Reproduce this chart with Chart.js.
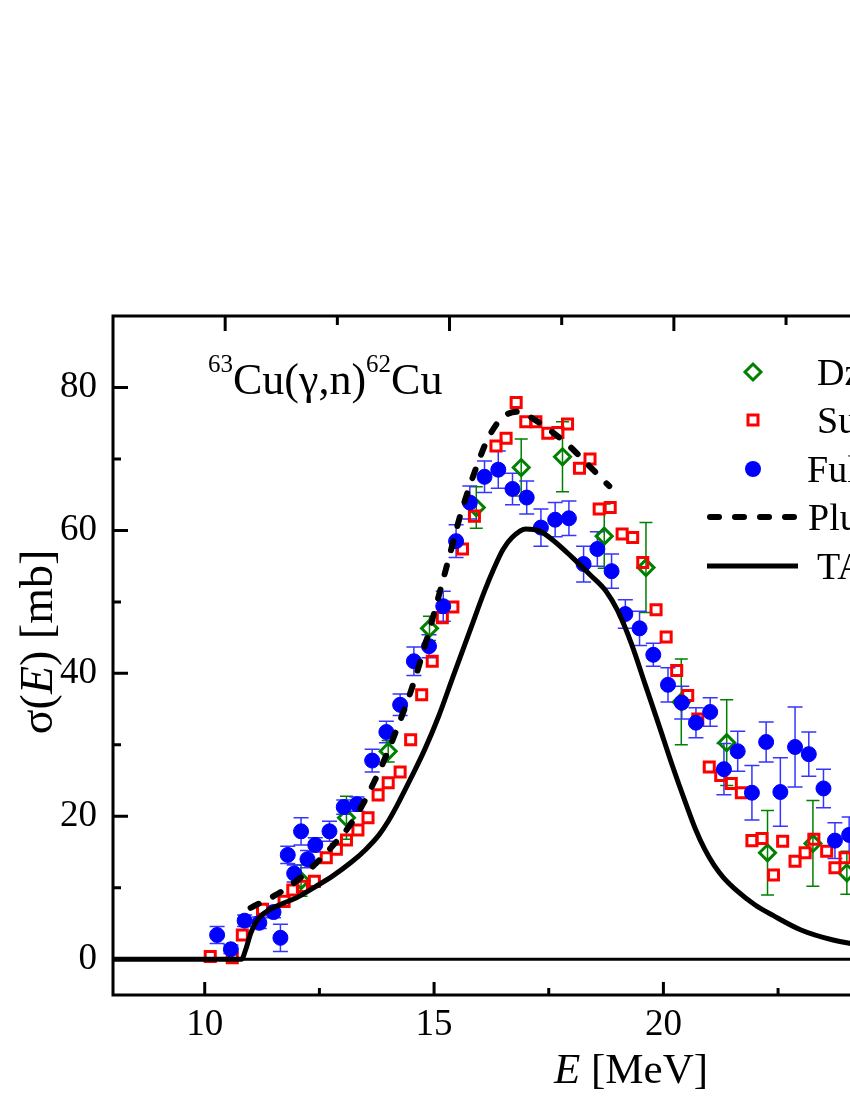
<!DOCTYPE html>
<html lang="en">
<head>
<meta charset="UTF-8">
<title>63Cu(γ,n)62Cu cross section</title>
<script src="https://cdn.jsdelivr.net/npm/chart.js@4.4.1/dist/chart.umd.min.js"></script>
<style>
    html, body {
        margin: 0;
        padding: 0;
        background-color: #ffffff;
        overflow: hidden;
    }
    #wrap {
        width: 1180px;
        height: 1100px;
    }
</style>
</head>
<body>

<div id="wrap">
    <canvas id="sigmaChart" width="1180" height="1100"></canvas>
</div>

<script>
    // Dzhilavyan (open diamonds, with error bars)
    const dzE   = [12.1, 13.09, 14.0, 14.9, 15.92, 16.9, 17.8, 18.71, 19.62, 20.39, 21.38, 22.27, 23.26, 24.0];
    const dzS   = [11.0, 19.8, 29.1, 46.3, 63.2, 68.8, 70.3, 59.2, 54.8, 36.0, 30.3, 14.9, 16.2, 12.1];
    const dzErr = [2.2, 3.0, 1.5, 1.7, 2.9, 4.0, 4.9, 4.5, 6.3, 6.0, 6.0, 5.9, 6.0, 3.0];

    // Sund (open squares)
    const sundE = [10.12, 10.6, 10.82, 11.26, 11.73, 11.92, 12.13, 12.39, 12.65, 12.87,
                   13.09, 13.34, 13.56, 13.78, 14.0, 14.26, 14.49, 14.73, 14.96, 15.18,
                   15.41, 15.62, 15.88, 16.35, 16.57, 16.79, 17.0, 17.22, 17.48, 17.7,
                   17.91, 18.17, 18.4, 18.6, 18.84, 19.1, 19.33, 19.55, 19.84, 20.06,
                   20.29, 20.53, 20.75, 21.0, 21.25, 21.48, 21.7, 21.93, 22.15, 22.4,
                   22.6, 22.87, 23.09, 23.28, 23.56, 23.74, 23.96];
    const sundS = [0.4, 0.2, 3.4, 7.0, 8.1, 9.7, 10.2, 10.9, 14.2, 15.4,
                   16.7, 18.1, 19.8, 23.0, 24.7, 26.2, 30.7, 37.0, 41.7, 47.8,
                   49.3, 57.4, 62.0, 71.8, 72.9, 77.9, 75.2, 75.2, 73.6, 73.7,
                   74.9, 68.7, 70.0, 63.0, 63.2, 59.5, 59.0, 55.5, 48.9, 45.1,
                   40.4, 36.9, 33.6, 26.9, 25.7, 24.6, 23.3, 16.6, 16.9, 11.8,
                   16.5, 13.7, 14.9, 16.8, 15.1, 12.8, 14.2];

    // Fultz (filled circles, with error bars)
    const fultzE = [10.27, 10.57, 10.87, 11.19, 11.5, 11.65, 11.81, 11.95, 12.1, 12.24,
                    12.41, 12.72, 13.03, 13.32, 13.65, 13.96, 14.26, 14.56, 14.89, 15.2,
                    15.48, 15.78, 16.1, 16.4, 16.71, 17.02, 17.33, 17.64, 17.94, 18.26,
                    18.56, 18.87, 19.17, 19.48, 19.78, 20.1, 20.4, 20.71, 21.02, 21.32,
                    21.62, 21.93, 22.24, 22.55, 22.87, 23.17, 23.49, 23.74, 24.05];
    const fultzS = [3.4, 1.4, 5.4, 5.1, 6.6, 3.0, 14.6, 12.0, 17.9, 14.0,
                    16.0, 17.9, 21.3, 21.7, 27.8, 31.8, 35.6, 41.7, 43.8, 49.4,
                    58.5, 63.9, 67.5, 68.5, 65.8, 64.6, 60.4, 61.5, 61.7, 55.3,
                    57.4, 54.3, 48.3, 46.3, 42.6, 38.4, 35.9, 33.1, 34.6, 26.6,
                    29.1, 23.3, 30.4, 23.4, 29.7, 28.7, 23.9, 16.6, 17.4];
    const fultzErr = [1.2, 0.6, 0.8, 0.8, 0.8, 1.9, 1.2, 1.2, 1.9, 1.2,
                      1.0, 1.4, 1.0, 1.0, 1.6, 1.5, 1.5, 2.0, 1.6, 2.1,
                      2.3, 2.3, 2.2, 2.6, 2.2, 2.3, 2.6, 2.4, 2.4, 2.5,
                      2.4, 2.4, 2.0, 2.4, 1.6, 2.4, 2.3, 2.1, 2.0, 3.6,
                      2.8, 3.8, 2.8, 4.8, 5.6, 3.1, 2.7, 2.5, 2.5];

    // Plujko (dashed curve)
    const plE = [11.0, 11.55, 11.95, 12.39, 12.78, 13.15, 13.44, 13.7, 13.95, 14.17,
                 14.53, 14.9, 15.18, 15.33, 15.59, 15.99, 16.17, 16.46, 16.8, 16.97,
                 17.44, 17.9, 18.31, 18.71, 18.82];
    const plS = [7.2, 9.0, 10.7, 13.2, 15.8, 18.6, 21.6, 24.9, 28.4, 31.9,
                 38.2, 46.1, 52.7, 56.3, 62.5, 70.0, 72.8, 75.6, 76.6, 76.3,
                 74.4, 72.1, 69.5, 66.9, 66.2];

    // TALYS (solid curve)
    const talysE = [8.0, 10.8, 10.9, 11.0, 11.1, 11.2, 11.4, 11.7, 12.0, 12.4,
                    12.8, 13.2, 13.5, 13.8, 14.0, 14.2, 14.5, 14.8, 15.1, 15.4,
                    15.8, 16.1, 16.3, 16.5, 16.7, 17.0, 17.3, 17.6, 18.0, 18.4,
                    18.75, 19.0, 19.3, 19.6, 19.9, 20.2, 20.5, 20.7, 20.9, 21.1,
                    21.3, 21.6, 22.0, 22.4, 23.0, 23.7, 24.5, 25.5, 27.0, 28.5,
                    30.5];
    const talysS = [0, 0, 1.5, 3.6, 5.0, 5.9, 6.9, 7.8, 8.6, 10.1,
                    11.7, 13.6, 15.3, 17.4, 19.3, 21.6, 25.4, 29.4, 34.0, 39.3,
                    46.3, 51.5, 54.6, 57.3, 59.0, 60.2, 59.9, 58.6, 56.3, 53.8,
                    51.5, 48.8, 44.2, 38.5, 32.8, 27.0, 21.6, 18.2, 15.4, 13.2,
                    11.5, 9.6, 7.6, 6.1, 4.1, 2.7, 1.8, 1.1, 0.6, 0.35,
                    0.2];

    // axes
    const xRange = [8, 30.5];
    const yRange = [-5, 90];
    const xTicks = [10, 12.5, 15, 17.5, 20, 22.5, 25, 27.5, 30];
    const yTicks = [10, 20, 30, 40, 50, 60, 70, 80];
    const topTicks = [0, 0.5, 1, 1.5, 2, 2.5, 3, 3.5, 4];

    const legendNames = ['Dzhilavyan', 'Sund', 'Fultz', 'Plujko', 'TALYS'];

    const serif = '"Liberation Serif", "Times New Roman", serif';

    function toPoints(xs, ys) {
        return xs.map((v, i) => ({ x: v, y: ys[i] }));
    }

    function drawErrorBars(chart, xs, ys, errs, color, cap) {
        const { ctx, chartArea: a, scales: { x, y } } = chart;
        ctx.save();
        ctx.beginPath();
        ctx.rect(a.left, a.top, a.right - a.left, a.bottom - a.top);
        ctx.clip();
        ctx.strokeStyle = color;
        ctx.lineWidth = 1.5;
        ctx.beginPath();
        xs.forEach((e, i) => {
            const px = x.getPixelForValue(e);
            const top = y.getPixelForValue(ys[i] + errs[i]);
            const bot = y.getPixelForValue(ys[i] - errs[i]);
            ctx.moveTo(px, top); ctx.lineTo(px, bot);
            ctx.moveTo(px - cap, top); ctx.lineTo(px + cap, top);
            ctx.moveTo(px - cap, bot); ctx.lineTo(px + cap, bot);
        });
        ctx.stroke();
        ctx.restore();
    }

    // draw runs of text with different fonts, starting at x
    function drawRuns(ctx, runs, x, y) {
        runs.forEach(r => {
            ctx.font = r.font;
            ctx.fillText(r.text, x, y + (r.dy || 0));
            x += ctx.measureText(r.text).width;
        });
    }

    function runsWidth(ctx, runs) {
        let w = 0;
        runs.forEach(r => { ctx.font = r.font; w += ctx.measureText(r.text).width; });
        return w;
    }

    const errorBars = {
        id: 'errorBars',
        beforeDatasetsDraw(chart) {
            drawErrorBars(chart, dzE, dzS, dzErr, '#008000', 6.5);
            drawErrorBars(chart, fultzE, fultzS, fultzErr, '#3535ff', 7.5);
        }
    };

    const frame = {
        id: 'frame',
        afterDraw(chart) {
            const { ctx, chartArea: a, scales: { x, y, x2 } } = chart;
            ctx.save();
            ctx.strokeStyle = '#000000';
            ctx.lineWidth = 3;
            ctx.beginPath();
            yTicks.forEach(v => {
                const py = y.getPixelForValue(v);
                const len = v % 20 === 0 ? 15 : 8;
                ctx.moveTo(a.left, py); ctx.lineTo(a.left + len, py);
                ctx.moveTo(a.right, py); ctx.lineTo(a.right - len, py);
            });
            xTicks.forEach(v => {
                const px = x.getPixelForValue(v);
                const len = v % 5 === 0 ? 13 : 7;
                ctx.moveTo(px, a.bottom); ctx.lineTo(px, a.bottom - len);
            });
            topTicks.forEach(v => {
                const px = x2.getPixelForValue(v);
                const len = Number.isInteger(v) ? 15 : 9;
                ctx.moveTo(px, a.top); ctx.lineTo(px, a.top + len);
            });
            ctx.stroke();
            ctx.strokeRect(a.left, a.top, a.right - a.left, a.bottom - a.top);
            ctx.restore();
        }
    };

    const labels = {
        id: 'labels',
        afterDraw(chart) {
            const ctx = chart.ctx;
            ctx.save();
            ctx.fillStyle = '#000000';
            ctx.textBaseline = 'alphabetic';
            ctx.textAlign = 'left';

            // reaction label
            const big = '44px ' + serif, sup = '25px ' + serif;
            drawRuns(ctx, [
                { text: '63', font: sup, dy: -22 },
                { text: 'Cu(γ,n)', font: big },
                { text: '62', font: sup, dy: -22 },
                { text: 'Cu', font: big }
            ], 208, 394);

            // x title
            const xRuns = [
                { text: 'E', font: 'italic 43px ' + serif },
                { text: ' [MeV]', font: '43px ' + serif }
            ];
            drawRuns(ctx, xRuns, 631 - runsWidth(ctx, xRuns) / 2, 1083);

            // y title
            const yRuns = [
                { text: 'σ(', font: '46px ' + serif },
                { text: 'E', font: 'italic 46px ' + serif },
                { text: ') [mb]', font: '46px ' + serif }
            ];
            ctx.save();
            ctx.translate(52, 642);
            ctx.rotate(-Math.PI / 2);
            drawRuns(ctx, yRuns, -runsWidth(ctx, yRuns) / 2, 0);
            ctx.restore();

            // legend
            const rowY = [372, 420, 469, 517, 566];
            const textX = [817, 817, 807, 808, 817];
            const mx = 753;

            ctx.lineWidth = 3;
            ctx.strokeStyle = '#008000';
            ctx.beginPath();
            ctx.moveTo(mx - 8, rowY[0]); ctx.lineTo(mx, rowY[0] - 8);
            ctx.lineTo(mx + 8, rowY[0]); ctx.lineTo(mx, rowY[0] + 8);
            ctx.closePath();
            ctx.stroke();

            ctx.strokeStyle = '#ff0000';
            ctx.strokeRect(mx - 5, rowY[1] - 5, 10, 10);

            ctx.fillStyle = '#0000ff';
            ctx.beginPath();
            ctx.arc(mx, rowY[2], 8, 0, Math.PI * 2);
            ctx.fill();

            ctx.strokeStyle = '#000000';
            ctx.lineWidth = 6;
            ctx.lineCap = 'round';
            ctx.setLineDash([9, 16]);
            ctx.beginPath();
            ctx.moveTo(710, rowY[3]); ctx.lineTo(796, rowY[3]);
            ctx.stroke();
            ctx.setLineDash([]);
            ctx.lineWidth = 5;
            ctx.lineCap = 'butt';
            ctx.beginPath();
            ctx.moveTo(707, rowY[4]); ctx.lineTo(798, rowY[4]);
            ctx.stroke();

            ctx.fillStyle = '#000000';
            ctx.font = '38px ' + serif;
            legendNames.forEach((name, i) => {
                ctx.fillText(name, textX[i], rowY[i] + 13);
            });
            ctx.restore();
        }
    };

    new Chart(document.getElementById('sigmaChart'), {
        type: 'scatter',
        data: {
            datasets: [
                {
                    label: 'TALYS',
                    data: toPoints(talysE, talysS),
                    showLine: true,
                    borderColor: '#000000',
                    borderWidth: 5,
                    pointRadius: 0,
                    cubicInterpolationMode: 'monotone',
                    fill: false
                },
                {
                    label: 'Plujko',
                    data: toPoints(plE, plS),
                    showLine: true,
                    borderColor: '#000000',
                    borderWidth: 6,
                    borderDash: [9, 16],
                    borderCapStyle: 'round',
                    pointRadius: 0,
                    cubicInterpolationMode: 'monotone',
                    fill: false
                },
                {
                    label: 'Fultz',
                    data: toPoints(fultzE, fultzS),
                    pointStyle: 'circle',
                    pointRadius: 7.5,
                    pointBorderWidth: 1,
                    pointBackgroundColor: '#0000ff',
                    pointBorderColor: '#0000ff'
                },
                {
                    label: 'Sund',
                    data: toPoints(sundE, sundS),
                    pointStyle: 'rect',
                    pointRadius: 7.1,
                    pointBorderWidth: 3,
                    pointBackgroundColor: 'rgba(0,0,0,0)',
                    pointBorderColor: '#ff0000'
                },
                {
                    label: 'Dzhilavyan',
                    data: toPoints(dzE, dzS),
                    pointStyle: 'rectRot',
                    pointRadius: 8,
                    pointBorderWidth: 3,
                    pointBackgroundColor: 'rgba(0,0,0,0)',
                    pointBorderColor: '#008000'
                },
                {
                    label: 'zero',
                    data: toPoints(xRange, [0, 0]),
                    showLine: true,
                    borderColor: '#000000',
                    borderWidth: 3,
                    pointRadius: 0
                }
            ]
        },
        options: {
            responsive: false,
            animation: false,
            layout: {
                padding: { top: 316, right: 35, left: 0, bottom: 0 }
            },
            plugins: {
                legend: { display: false },
                tooltip: { enabled: false }
            },
            scales: {
                x: {
                    type: 'linear',
                    position: 'bottom',
                    min: xRange[0],
                    max: xRange[1],
                    grid: { display: false, drawTicks: false },
                    border: { display: false },
                    afterFit: s => { s.height = 105; },
                    ticks: {
                        stepSize: 5,
                        includeBounds: false,
                        padding: 8,
                        color: '#000000',
                        font: { family: serif, size: 37 },
                        callback: v => (v % 5 === 0 ? v : '')
                    }
                },
                x2: {
                    type: 'linear',
                    position: 'top',
                    display: false,
                    min: -0.5,
                    max: 4.1
                },
                y: {
                    type: 'linear',
                    position: 'left',
                    min: yRange[0],
                    max: yRange[1],
                    grid: { display: false, drawTicks: false },
                    border: { display: false },
                    afterFit: s => { s.width = 113; },
                    ticks: {
                        stepSize: 20,
                        includeBounds: false,
                        padding: 16,
                        color: '#000000',
                        font: { family: serif, size: 37 },
                        callback: v => (v % 20 === 0 ? v : '')
                    }
                }
            }
        },
        plugins: [errorBars, frame, labels]
    });
</script>

</body>
</html>
